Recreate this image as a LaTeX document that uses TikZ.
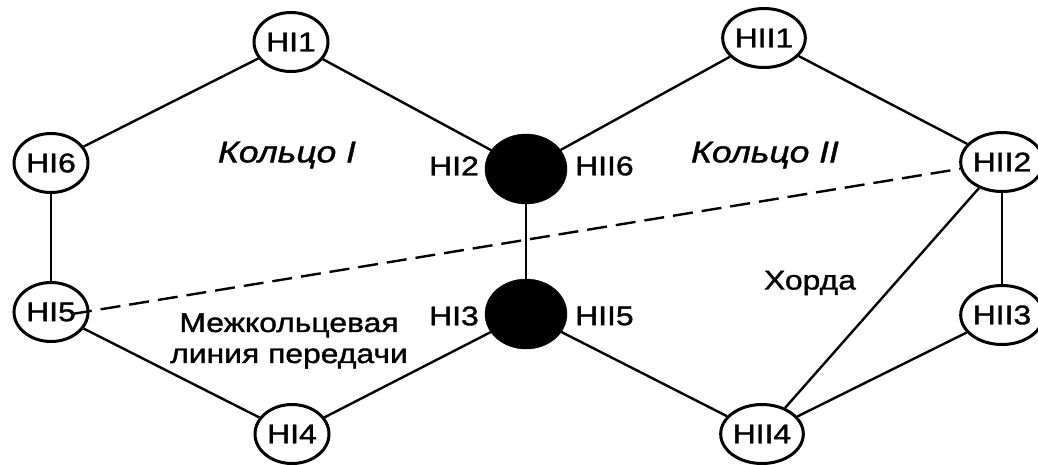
\documentclass[tikz,border=0pt]{standalone}
\usepackage{fontspec}
\setmainfont{Liberation Sans}[FakeStretch=1.18,FakeBold=1.3]
\usetikzlibrary{shapes.geometric}
\begin{document}
\begin{tikzpicture}[x=1pt,y=-1pt,
  hub/.style={ellipse,draw,line width=3pt,minimum width=74pt,minimum height=59pt,inner sep=0pt,font=\fontsize{27}{29}\selectfont},
  blackhub/.style={ellipse,fill=black,draw=black,minimum width=82pt,minimum height=70pt,inner sep=0pt},
  link/.style={line width=2.4pt},
  lbl/.style={font=\fontsize{27}{29}\selectfont,inner sep=0pt},
  ring/.style={font=\fontsize{30}{32}\selectfont\itshape,inner sep=0pt}]
\useasboundingbox (0,0) rectangle (1038,464);
% nodes
\node[hub] (h11) at (291,42) {HI1};
\node[hub] (h16) at (51,163) {HI6};
\node[hub] (h15) at (51,312) {HI5};
\node[hub] (h14) at (292,434) {HI4};
\node[blackhub] (h12) at (526,169) {};
\node[blackhub] (h13) at (526,314) {};
\node[hub] (h21) at (764,38) {HII1};
\node[hub] (h22) at (1002,162) {HII2};
\node[hub] (h23) at (1002,315) {HII3};
\node[hub] (h24) at (762,434) {HII4};
% labels beside black hubs
\node[lbl,anchor=east] (l12) at (479,166) {HI2};
\node[lbl,anchor=west] (l26) at (575,166) {HII6};
\node[lbl,anchor=east] (l13) at (479,316) {HI3};
\node[lbl,anchor=west] (l25) at (575,316) {HII5};
% ring names
\node[ring] (r1) at (287,155) {Кольцо I};
\node[ring] (r2) at (765,155) {Кольцо II};
\node[lbl] (chord) at (810,283) {Хорда};
\node[lbl,align=center,font=\fontsize{27}{31}\selectfont] (inter) at (289,341) {Межкольцевая\\линия передачи};
% connectors
\draw[link] (h11) -- (h16);
\draw[link] (h16) -- (h15);
\draw[link] (h15) -- (h14);
\draw[link] (h14) -- (h13);
\draw[link] (h11) -- (h12);
\draw[link] (h12) -- (h13);
\draw[link] (h12) -- (h21);
\draw[link] (h21) -- (h22);
\draw[link] (h22) -- (h23);
\draw[link] (h23) -- (h24);
\draw[link] (h13) -- (h24);
\draw[link] (h22) -- (h24);
\coordinate (dstart) at (72,314);
\draw[link,dash pattern=on 20pt off 9pt] (dstart) -- (h22);
\end{tikzpicture}
\end{document}
